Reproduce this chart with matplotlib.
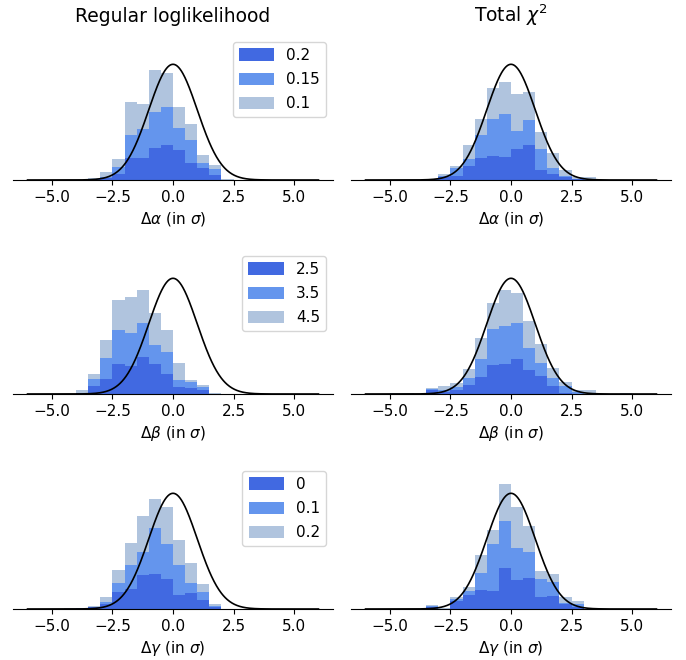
import numpy as np
import matplotlib
matplotlib.use("Agg")
import matplotlib.pyplot as plt

# Bin edges of the histograms (24 bins of width 0.5 from -6 to 6)
bin_edges = np.linspace(-6, 6, 25)

col_titles = ["Regular loglikelihood", r"Total $\chi^2$"]
row_xlabels = [r"$\Delta\alpha$ (in $\sigma$)", r"$\Delta\beta$ (in $\sigma$)", r"$\Delta\gamma$ (in $\sigma$)"]
row_legend_labels = [["0.2", "0.15", "0.1"], ["2.5", "3.5", "4.5"], ["0", "0.1", "0.2"]]
layer_colors = ["royalblue", "cornflowerblue", "lightsteelblue"]

# ---- layer heights (density) per bin, bottom layer first ----
# Row 1, Regular loglikelihood (alpha)
alpha_reg_l1 = [0, 0, 0, 0, 0, 0.005, 0.007, 0.020, 0.077, 0.077, 0.112, 0.120, 0.103, 0.059, 0.042, 0.016, 0, 0, 0, 0, 0, 0, 0, 0]
alpha_reg_l2 = [0, 0, 0, 0, 0, 0, 0.002, 0.024, 0.077, 0.098, 0.121, 0.131, 0.078, 0.078, 0.016, 0.023, 0, 0, 0, 0, 0, 0, 0, 0]
alpha_reg_l3 = [0, 0, 0, 0, 0, 0.003, 0.017, 0.028, 0.114, 0.086, 0.148, 0.118, 0.070, 0.057, 0.029, 0.012, 0.002, 0, 0, 0, 0, 0, 0, 0]
# Row 1, Total chi2 (alpha)
alpha_tot_l1 = [0, 0, 0, 0, 0, 0.003, 0.012, 0.014, 0.049, 0.075, 0.084, 0.080, 0.107, 0.121, 0.035, 0.020, 0.012, 0.003, 0.001, 0, 0, 0, 0, 0]
alpha_tot_l2 = [0, 0, 0, 0, 0, 0, 0.002, 0.028, 0.023, 0.079, 0.128, 0.147, 0.061, 0.085, 0.072, 0.023, 0.002, 0.002, 0.002, 0, 0, 0, 0, 0]
alpha_tot_l3 = [0, 0, 0, 0, 0, 0.002, 0.005, 0.005, 0.047, 0.058, 0.106, 0.111, 0.128, 0.097, 0.059, 0.050, 0.020, 0.007, 0.006, 0, 0, 0, 0, 0]
# Row 2, Regular loglikelihood (beta)
beta_reg_l1 = [0, 0, 0, 0, 0.003, 0.026, 0.052, 0.105, 0.096, 0.126, 0.104, 0.068, 0.023, 0.020, 0.015, 0, 0, 0, 0, 0, 0, 0, 0, 0]
beta_reg_l2 = [0, 0, 0, 0, 0.002, 0.027, 0.072, 0.117, 0.115, 0.119, 0.064, 0.078, 0.027, 0.023, 0.010, 0, 0, 0, 0, 0, 0, 0, 0, 0]
beta_reg_l3 = [0, 0, 0, 0, 0.010, 0.017, 0.061, 0.101, 0.124, 0.115, 0.111, 0.075, 0.057, 0.006, 0.006, 0.002, 0, 0, 0, 0, 0, 0, 0, 0]
# Row 2, Total chi2 (beta)
beta_tot_l1 = [0, 0, 0, 0, 0, 0.014, 0.008, 0.014, 0.031, 0.057, 0.101, 0.105, 0.119, 0.082, 0.063, 0.028, 0.002, 0, 0, 0, 0, 0, 0, 0]
beta_tot_l2 = [0, 0, 0, 0, 0, 0.003, 0.006, 0.009, 0.023, 0.065, 0.122, 0.128, 0.126, 0.078, 0.044, 0.027, 0.026, 0.006, 0, 0, 0, 0, 0, 0]
beta_tot_l3 = [0, 0, 0.003, 0.002, 0, 0.005, 0.014, 0.016, 0.031, 0.070, 0.091, 0.127, 0.105, 0.091, 0.064, 0.035, 0.014, 0.008, 0.014, 0, 0, 0.002, 0, 0]
# Row 3, Regular loglikelihood (gamma)
gamma_reg_l1 = [0, 0, 0, 0, 0, 0.006, 0.017, 0.057, 0.068, 0.117, 0.119, 0.105, 0.047, 0.056, 0.031, 0.006, 0, 0, 0, 0, 0, 0, 0, 0]
gamma_reg_l2 = [0, 0, 0, 0, 0.003, 0.002, 0.008, 0.033, 0.083, 0.078, 0.161, 0.119, 0.104, 0.034, 0.029, 0.006, 0, 0, 0, 0, 0, 0, 0, 0]
gamma_reg_l3 = [0, 0, 0, 0.002, 0.002, 0.002, 0.015, 0.043, 0.077, 0.127, 0.101, 0.129, 0.086, 0.068, 0.027, 0.005, 0, 0, 0, 0, 0, 0, 0, 0]
# Row 3, Total chi2 (gamma)
gamma_tot_l1 = [0, 0, 0, 0, 0, 0.008, 0, 0.028, 0.047, 0.066, 0.061, 0.142, 0.101, 0.107, 0.041, 0.044, 0.017, 0.008, 0, 0, 0, 0, 0, 0]
gamma_tot_l2 = [0, 0, 0, 0, 0, 0.002, 0, 0.007, 0.014, 0.058, 0.163, 0.163, 0.108, 0.090, 0.061, 0.049, 0.002, 0.009, 0, 0, 0, 0, 0, 0]
gamma_tot_l3 = [0, 0, 0, 0, 0, 0.003, 0.002, 0.005, 0.014, 0.061, 0.049, 0.126, 0.142, 0.089, 0.029, 0.029, 0.023, 0.010, 0, 0, 0, 0, 0, 0]

panels = [
    [(alpha_reg_l1, alpha_reg_l2, alpha_reg_l3), (alpha_tot_l1, alpha_tot_l2, alpha_tot_l3)],
    [(beta_reg_l1, beta_reg_l2, beta_reg_l3), (beta_tot_l1, beta_tot_l2, beta_tot_l3)],
    [(gamma_reg_l1, gamma_reg_l2, gamma_reg_l3), (gamma_tot_l1, gamma_tot_l2, gamma_tot_l3)],
]

W, H = 686, 660
fig = plt.figure(figsize=(W / 100, H / 100), dpi=100)

col_left = [13, 351]
ax_w = 320
row_bottom = [180, 394, 609]
ax_h = 145

xc = np.linspace(-6, 6, 600)
yc = np.exp(-0.5 * xc ** 2) / np.sqrt(2 * np.pi)

for r in range(3):
    for c in range(2):
        ax = fig.add_axes([col_left[c] / W, (H - row_bottom[r]) / H, ax_w / W, ax_h / H])
        layers = [np.array(v, dtype=float) for v in panels[r][c]]
        base = np.zeros(len(bin_edges) - 1)
        for k, (lay, col) in enumerate(zip(layers, layer_colors)):
            top = base + lay
            ax.stairs(top, bin_edges, baseline=base.copy(), fill=True, color=col,
                      label=row_legend_labels[r][k], linewidth=0)
            base = top
        ax.plot(xc, yc, color="black", lw=1.2)
        ax.set_xlim(-6.6, 6.6)
        ax.set_ylim(0, 0.5)
        ax.set_xticks([-5, -2.5, 0, 2.5, 5])
        ax.set_xticklabels(["\u22125.0", "\u22122.5", "0.0", "2.5", "5.0"])
        ax.tick_params(axis="x", labelsize=11)
        ax.set_yticks([])
        for s in ["top", "left", "right"]:
            ax.spines[s].set_visible(False)
        ax.set_xlabel(row_xlabels[r], fontsize=11)
        if r == 0:
            ax.set_title(col_titles[c], fontsize=13.5, pad=9)
        if c == 0:
            ax.legend(loc="upper right", fontsize=11, handlelength=2.3,
                      handleheight=0.9, labelspacing=0.6, borderaxespad=0.45)

fig.savefig("out.png", dpi=100)
